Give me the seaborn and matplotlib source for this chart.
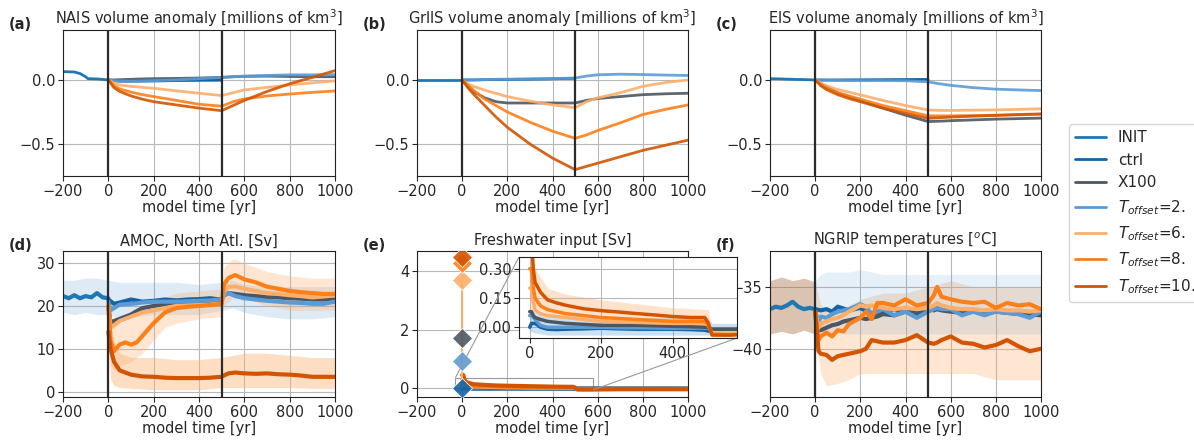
import matplotlib
matplotlib.use("Agg")
import matplotlib.pyplot as plt
from matplotlib.lines import Line2D
from mpl_toolkits.axes_grid1.inset_locator import mark_inset
import seaborn as sns

sns.set_style("ticks")
plt.rcParams['font.family'] = ['DejaVu Sans']
plt.rcParams['font.size'] = 10

# ---------------- series names / colours ----------------
series = ["INIT", "ctrl", "X100", "T2", "T6", "T8", "T10"]
labels = ["INIT", "ctrl", "X100", r"$T_{offset}$=2.", r"$T_{offset}$=6.",
          r"$T_{offset}$=8.", r"$T_{offset}$=10."]
colors = {"INIT": "#1f77b4", "ctrl": "#1464a5", "X100": "#4b5763",
          "T2": "#5b9bd5", "T6": "#fdae6b", "T8": "#fd7f18", "T10": "#d35400"}

# ---------------- (a)-(c) ice volume anomalies ----------------
t_init = [-200, -150, -125, -100, -90, -50, 0]
t_ctrl = [0, 50, 100, 200, 300, 400, 500]
t_run = [0, 25, 50, 100, 150, 200, 300, 400, 500, 550, 600, 700, 800, 900, 1000]

init_a = [0.065, 0.062, 0.05, 0.025, 0.01, 0.008, 0.0]
ctrl_a = [0.0, -0.01, -0.01, -0.008, -0.005, -0.003, -0.002]
x100_a = [0, 0.0, 0.002, 0.005, 0.008, 0.01, 0.012, 0.015, 0.02, 0.025, 0.028, 0.03, 0.027, 0.025, 0.025]
t2_a = [0, -0.005, -0.008, -0.01, -0.008, -0.005, 0.0, 0.01, 0.02, 0.025, 0.03, 0.035, 0.04, 0.04, 0.042]
t6_a = [0, -0.025, -0.04, -0.05, -0.058, -0.065, -0.085, -0.104, -0.122, -0.10, -0.078, -0.058, -0.039, -0.022, -0.008]
t8_a = [0, -0.045, -0.07, -0.095, -0.115, -0.13, -0.16, -0.19, -0.205, -0.17, -0.148, -0.125, -0.11, -0.097, -0.086]
t10_a = [0, -0.06, -0.09, -0.125, -0.15, -0.17, -0.195, -0.22, -0.24, -0.20, -0.16, -0.09, -0.03, 0.02, 0.073]

init_b = [0.0, 0.0, 0.0, 0.0, 0.0, 0.0, 0.0]
ctrl_b = [0, 0.0, 0.002, 0.004, 0.006, 0.009, 0.013]
x100_b = [0, -0.05, -0.09, -0.14, -0.17, -0.18, -0.18, -0.18, -0.18, -0.16, -0.145, -0.13, -0.115, -0.108, -0.104]
t2_b = [0, 0.0, 0.001, 0.003, 0.005, 0.006, 0.008, 0.01, 0.015, 0.03, 0.04, 0.045, 0.042, 0.038, 0.035]
t6_b = [0, -0.03, -0.05, -0.08, -0.105, -0.13, -0.165, -0.195, -0.216, -0.17, -0.14, -0.10, -0.05, -0.02, 0.0]
t8_b = [0, -0.04, -0.08, -0.15, -0.20, -0.25, -0.33, -0.40, -0.456, -0.43, -0.395, -0.335, -0.27, -0.23, -0.195]
t10_b = [0, -0.06, -0.11, -0.20, -0.29, -0.37, -0.50, -0.61, -0.70, -0.675, -0.65, -0.60, -0.55, -0.51, -0.47]

init_c = [0.01, 0.008, 0.006, 0.005, 0.004, 0.003, 0.0]
ctrl_c = [0, 0.0, 0.0, 0.001, 0.002, 0.003, 0.004]
x100_c = [0, -0.03, -0.055, -0.10, -0.13, -0.16, -0.22, -0.275, -0.325, -0.322, -0.318, -0.312, -0.306, -0.302, -0.298]
t2_c = [0, -0.002, -0.003, -0.004, -0.005, -0.005, -0.005, -0.006, -0.015, -0.03, -0.042, -0.06, -0.072, -0.078, -0.083]
t6_c = [0, -0.025, -0.045, -0.075, -0.095, -0.117, -0.16, -0.2, -0.235, -0.238, -0.238, -0.236, -0.234, -0.23, -0.225]
t8_c = [0, -0.035, -0.06, -0.10, -0.125, -0.15, -0.20, -0.24, -0.28, -0.28, -0.28, -0.278, -0.275, -0.272, -0.268]
t10_c = [0, -0.045, -0.075, -0.115, -0.145, -0.17, -0.22, -0.26, -0.30, -0.295, -0.29, -0.283, -0.277, -0.27, -0.265]

# ---------------- (d) AMOC ----------------
t_init_d = [-200, -175, -150, -125, -100, -75, -50, -25, 0]
init_d = [22.3, 21.8, 22.5, 21.8, 22.3, 22.0, 23.0, 22.0, 21.8]
t_ctrl_d = [0, 25, 50, 100, 150, 200, 250, 300, 350, 400, 450, 490]
ctrl_d = [21.5, 20.5, 20.8, 21.5, 21.0, 21.2, 21.5, 21.3, 21.5, 21.6, 21.8, 21.5]
t_run_d = [0, 10, 25, 50, 75, 100, 125, 150, 200, 250, 300, 350, 400, 450, 500,
           510, 530, 560, 600, 650, 700, 750, 800, 850, 900, 950, 1000]
t2_d = [21.0, 19.0, 19.5, 20.3, 20.4, 20.5, 20.6, 20.8, 21.0, 21.0, 21.0, 21.1, 21.2, 21.3, 21.5,
        22.5, 23.0, 22.3, 21.8, 21.5, 21.2, 21.0, 20.8, 20.7, 20.5, 20.5, 21.0]
x100_d = [20.0, 16.0, 16.5, 17.0, 17.5, 18.0, 18.8, 19.5, 20.0, 20.4, 20.8, 21.0, 21.0, 21.2, 21.5,
          22.5, 23.0, 22.8, 22.5, 22.3, 22.0, 22.0, 21.8, 21.7, 21.5, 21.5, 21.5]
t6_d = [20.0, 15.0, 15.5, 16.5, 17.0, 17.5, 18.0, 18.5, 19.0, 19.5, 20.0, 20.1, 20.2, 20.3, 20.5,
        23.5, 24.5, 24.5, 24.0, 23.5, 23.0, 22.8, 22.5, 22.3, 22.0, 22.2, 22.5]
t8_d = [20.0, 12.0, 9.5, 11.0, 11.5, 11.0, 11.5, 13.0, 16.0, 18.5, 19.5, 19.8, 20.0, 20.2, 20.5,
        25.0, 26.5, 27.2, 26.2, 25.5, 24.5, 24.0, 23.5, 23.2, 23.0, 22.8, 22.8]
t10_d = [14.0, 10.0, 7.0, 5.0, 4.5, 4.0, 3.8, 3.6, 3.5, 3.3, 3.2, 3.2, 3.2, 3.3, 3.5,
         3.8, 4.3, 4.5, 4.3, 4.2, 4.3, 4.1, 4.0, 3.8, 3.5, 3.5, 3.5]
# spread of the raw (unsmoothed) series
t_band_blue_d = [-200, -150, -100, -50, 0, 50, 100, 200, 300, 400, 500, 550, 600, 700, 800, 900, 1000]
lo_blue_d = [18.5, 18.0, 18.5, 18.0, 18.0, 17.0, 17.5, 18.0, 18.0, 18.0, 19.0, 19.5, 18.5, 17.5, 17.0, 17.0, 17.5]
hi_blue_d = [26.0, 26.0, 26.5, 26.5, 26.0, 25.5, 25.5, 25.5, 25.5, 25.0, 25.5, 26.0, 25.0, 24.5, 24.5, 24.5, 24.5]
t_band_t10_d = [0, 10, 25, 50, 100, 200, 300, 400, 500, 600, 700, 800, 900, 1000]
lo_t10_d = [12.0, 3.0, 1.5, 1.0, 0.8, 0.5, 0.5, 0.5, 1.0, 1.0, 1.0, 1.0, 0.8, 0.8]
hi_t10_d = [22.0, 16.0, 12.0, 9.0, 8.0, 8.0, 7.5, 7.5, 8.0, 9.0, 9.0, 8.5, 8.0, 8.0]
t_band_t8_d = [0, 10, 25, 50, 100, 150, 200, 250, 300, 400, 500, 510, 550, 600, 700, 800, 900, 1000]
lo_t8_d = [14.0, 6.0, 5.0, 6.0, 7.0, 9.0, 12.0, 15.0, 16.0, 17.0, 17.5, 20.0, 22.0, 22.0, 20.0, 19.0, 19.0, 19.0]
hi_t8_d = [22.0, 18.0, 16.0, 16.0, 17.0, 19.0, 21.0, 22.0, 23.0, 23.5, 24.0, 29.0, 31.0, 30.0, 28.0, 27.0, 26.5, 26.5]

# ---------------- (e) freshwater ----------------
t_fw = [0, 5, 10, 15, 30, 50, 75, 100, 150, 200, 250, 300, 350, 400, 450, 490, 500,
        510, 560, 600, 700, 800, 900, 1000]
t10_fw = [0.45, 0.45, 0.30, 0.23, 0.18, 0.14, 0.125, 0.113, 0.095, 0.085, 0.078, 0.07, 0.063, 0.055, 0.05, 0.05, 0.02,
          -0.04, -0.04, -0.035, -0.03, -0.03, -0.03, -0.03]
t8_fw = [0.30, 0.30, 0.20, 0.15, 0.11, 0.09, 0.08, 0.07, 0.06, 0.05, 0.045, 0.04, 0.035, 0.03, 0.03, 0.03, 0.01,
         -0.035, -0.04, -0.035, -0.03, -0.03, -0.03, -0.03]
t6_fw = [0.20, 0.20, 0.13, 0.09, 0.07, 0.06, 0.055, 0.05, 0.04, 0.03, 0.028, 0.025, 0.022, 0.02, 0.02, 0.02, 0.01,
         -0.03, -0.03, -0.03, -0.025, -0.025, -0.025, -0.025]
x100_fw = [0.08, 0.08, 0.06, 0.05, 0.04, 0.03, 0.025, 0.02, 0.015, 0.01, 0.01, 0.01, 0.008, 0.005, 0.003, 0.0, 0.0,
           -0.01, -0.01, -0.01, -0.01, -0.01, -0.01, -0.01]
t2_fw = [0.06, 0.06, 0.05, 0.04, 0.01, 0.0, 0.0, 0.0, 0.0, 0.0, -0.002, -0.003, -0.004, -0.005, -0.005, -0.005, -0.005,
         -0.01, -0.01, -0.01, -0.01, -0.01, -0.01, -0.01]
t_ctrl_fw = [0, 5, 10, 15, 30, 50, 75, 100, 150, 200, 250, 300, 350, 400, 450, 490, 500]
ctrl_fw = [0.0, 0.02, 0.02, 0.02, 0.0, -0.01, -0.012, -0.01, -0.008, -0.005, -0.008, -0.01, -0.01, -0.01, -0.012, -0.015, -0.02]
pulse_keys = ["ctrl", "T2", "X100", "T6", "T8", "T10"]
pulse_vals = [0.02, 0.95, 1.72, 3.69, 4.28, 4.5]
t_band_fw = [0, 15, 50, 100, 200, 300, 400, 500, 510, 560, 1000]
lo_t10_fw = [0.0, 0.10, 0.07, 0.05, 0.04, 0.03, 0.02, 0.02, -0.05, -0.05, -0.05]
hi_t10_fw = [0.36, 0.30, 0.20, 0.17, 0.14, 0.12, 0.10, 0.09, -0.02, -0.02, -0.02]
lo_blue_fw = [-0.02, -0.03, -0.04, -0.04, -0.04, -0.04, -0.04, -0.04, -0.04, -0.04, -0.04]
hi_blue_fw = [0.06, 0.09, 0.06, 0.05, 0.05, 0.05, 0.05, 0.05, 0.02, 0.02, 0.02]

# ---------------- (f) NGRIP temperature ----------------
t_init_f = [-200, -175, -150, -125, -100, -75, -50, -25, 0]
init_f = [-36.8, -36.6, -36.7, -36.5, -36.2, -36.6, -36.8, -36.7, -36.8]
t_ctrl_f = [0, 25, 50, 75, 100, 150, 200, 250, 300, 350, 400, 450, 500]
ctrl_f = [-36.8, -36.9, -36.8, -37.0, -36.6, -36.9, -36.7, -37.2, -37.0, -36.8, -37.0, -37.2, -36.9]
t_run_f = [0, 15, 25, 50, 75, 100, 125, 150, 200, 225, 250, 275, 300, 350, 400, 450, 500,
           525, 540, 560, 600, 650, 700, 750, 800, 850, 900, 950, 1000]
t2_f = [-37.0, -37.8, -37.4, -37.5, -37.2, -37.0, -36.9, -36.8, -36.4, -36.6, -37.2, -37.0, -36.8, -37.3, -37.0, -37.5, -37.0,
        -36.8, -36.7, -36.8, -36.8, -37.3, -37.0, -37.3, -37.0, -37.1, -37.2, -37.5, -37.0]
x100_f = [-37.0, -38.5, -38.5, -38.3, -38.1, -38.0, -37.8, -37.7, -37.5, -37.6, -37.5, -37.4, -37.2, -37.3, -37.0, -37.0, -36.7,
          -36.9, -36.8, -36.9, -37.0, -37.1, -37.0, -37.1, -37.0, -37.1, -37.2, -37.2, -37.3]
t6_f = [-37.0, -38.3, -38.0, -37.8, -37.6, -37.5, -37.3, -37.0, -36.5, -36.6, -36.5, -36.6, -36.7, -36.8, -36.7, -36.8, -36.7,
        -36.5, -36.3, -36.5, -36.7, -36.8, -36.8, -36.9, -36.8, -36.9, -36.9, -37.0, -36.9]
t8_f = [-37.0, -39.3, -39.0, -38.7, -39.0, -38.5, -38.6, -38.0, -37.5, -37.0, -37.6, -36.3, -36.3, -36.5, -36.0, -36.5, -36.3,
        -35.7, -35.0, -35.8, -36.0, -36.2, -36.3, -36.2, -36.7, -36.3, -36.5, -36.4, -36.8]
t10_f = [-37.0, -40.2, -40.4, -40.5, -40.9, -40.6, -40.5, -40.4, -40.2, -40.0, -39.3, -39.4, -39.5, -39.5, -39.3, -38.9, -39.5,
         -39.6, -39.5, -39.3, -39.0, -39.5, -39.6, -39.9, -39.7, -39.3, -39.8, -40.2, -40.0]
t_band_pre_f = [-200, -150, -100, -50, 0]
lo_pre_f = [-38.8, -38.6, -38.8, -38.5, -38.8]
hi_pre_f = [-34.5, -34.2, -34.5, -34.3, -34.6]
t_band_f = [0, 25, 50, 100, 150, 200, 300, 400, 500, 600, 700, 800, 900, 1000]
lo_blue_f = [-38.8, -38.8, -38.8, -38.8, -38.8, -38.8, -38.8, -38.8, -38.8, -38.8, -38.8, -38.8, -38.8, -38.8]
hi_blue_f = [-34.5, -34.0, -33.8, -33.8, -33.8, -33.6, -34.0, -34.0, -34.0, -34.0, -34.0, -34.0, -34.0, -34.0]
lo_or_f = [-39.0, -42.0, -43.0, -42.8, -42.5, -42.0, -42.0, -42.0, -42.0, -42.0, -42.0, -42.5, -42.5, -42.5]
hi_or_f = [-34.5, -36.5, -37.0, -37.0, -36.5, -36.0, -35.5, -35.5, -35.0, -34.5, -35.0, -35.0, -35.0, -35.0]

# ---------------- figure ----------------
W, H = 1194, 441
fig = plt.figure(figsize=(W / 100, H / 100), dpi=100)


def px_axes(left, top, right, bottom):
    return fig.add_axes([left / W, 1 - bottom / H, (right - left) / W, (bottom - top) / H])


lefts = [63, 417, 770]
rights = [335, 688, 1041]
axes_top = [px_axes(lefts[i], 30, rights[i], 176) for i in range(3)]
axes_bot = [px_axes(lefts[i], 251, rights[i], 397) for i in range(3)]


def line(ax, t, y, key, lw=2.0, alpha=1.0, z=2):
    sns.lineplot(x=t, y=y, ax=ax, color=colors[key], lw=lw, alpha=alpha,
                 legend=False, estimator=None, sort=False, zorder=z)


def style(ax, title, letter, ylim, yticks, vlines=True, xlim=(-200, 1000)):
    ax.set_xlim(*xlim)
    ax.set_ylim(*ylim)
    ax.set_xticks([-200, 0, 200, 400, 600, 800, 1000])
    ax.set_yticks(yticks)
    ax.grid(True, color="#b8b8b8", lw=0.8)
    ax.set_axisbelow(True)
    ax.set_title(title, fontsize=10.5, pad=4)
    ax.set_xlabel("model time [yr]", fontsize=10.5, labelpad=1)
    ax.set_ylabel("")
    ax.tick_params(labelsize=10.5, length=3.5, width=0.8, pad=2)
    for s in ax.spines.values():
        s.set_linewidth(0.8)
        s.set_color("#222222")
    ax.text(-0.2, 1.035, letter, transform=ax.transAxes, fontweight="bold",
            fontsize=10.5, ha="left", va="center")
    if vlines:
        for xv in (0, 500):
            ax.axvline(xv, color="#2b2b2b", lw=1.6, zorder=4)


vol_sets = [
    ("NAIS volume anomaly [millions of km$^3$]", "(a)", init_a, ctrl_a, x100_a, t2_a, t6_a, t8_a, t10_a),
    ("GrIIS volume anomaly [millions of km$^3$]", "(b)", init_b, ctrl_b, x100_b, t2_b, t6_b, t8_b, t10_b),
    ("EIS volume anomaly [millions of km$^3$]", "(c)", init_c, ctrl_c, x100_c, t2_c, t6_c, t8_c, t10_c),
]
for ax, (title, letter, yi, yc, yx, y2, y6, y8, y10) in zip(axes_top, vol_sets):
    line(ax, t_init, yi, "INIT", lw=2.0)
    line(ax, t_ctrl, yc, "ctrl", lw=2.0)
    line(ax, t_run, yx, "X100", lw=2.0, alpha=0.9)
    line(ax, t_run, y2, "T2", lw=2.0, alpha=0.9)
    line(ax, t_run, y6, "T6", lw=2.0, alpha=0.9)
    line(ax, t_run, y8, "T8", lw=2.0, alpha=0.9)
    line(ax, t_run, y10, "T10", lw=2.0, alpha=0.9)
    style(ax, title, letter, (-0.75, 0.39), [-0.5, 0.0])

# (d)
ax = axes_bot[0]
ax.fill_between(t_band_blue_d, lo_blue_d, hi_blue_d, color=colors["T2"], alpha=0.2, lw=0)
ax.fill_between(t_band_t10_d, lo_t10_d, hi_t10_d, color=colors["T6"], alpha=0.4, lw=0)
ax.fill_between(t_band_t8_d, lo_t8_d, hi_t8_d, color=colors["T6"], alpha=0.3, lw=0)
line(ax, t_init_d, init_d, "INIT", lw=3)
line(ax, t_ctrl_d, ctrl_d, "ctrl", lw=3)
line(ax, t_run_d, x100_d, "X100", lw=3)
line(ax, t_run_d, t2_d, "T2", lw=3)
line(ax, t_run_d, t6_d, "T6", lw=3)
line(ax, t_run_d, t8_d, "T8", lw=3)
line(ax, t_run_d, t10_d, "T10", lw=3)
style(ax, "AMOC, North Atl. [Sv]", "(d)", (-1.2, 32.8), [0, 10, 20, 30])

# (e)
ax = axes_bot[1]


def fw_lines(a, lw):
    a.fill_between(t_band_fw, lo_blue_fw, hi_blue_fw, color=colors["T2"], alpha=0.3, lw=0)
    a.fill_between(t_band_fw, lo_t10_fw, hi_t10_fw, color=colors["T6"], alpha=0.35, lw=0)
    line(a, t_ctrl_fw, ctrl_fw, "ctrl", lw=lw)
    line(a, t_fw, t2_fw, "T2", lw=lw)
    line(a, t_fw, x100_fw, "X100", lw=lw)
    line(a, t_fw, t6_fw, "T6", lw=lw)
    line(a, t_fw, t8_fw, "T8", lw=lw)
    line(a, t_fw, t10_fw, "T10", lw=lw)


fw_lines(ax, 3)
ax.vlines(0, 0, pulse_vals[pulse_keys.index("T6")], color=colors["T6"], lw=1.5, zorder=3)
for k, v in zip(pulse_keys, pulse_vals):
    ax.plot(0, v, marker="D", ms=10, color=colors[k], mec="white", mew=0.6, alpha=0.9, zorder=5)
style(ax, "Freshwater input [Sv]", "(e)", (-0.3, 4.7), [0, 2, 4], vlines=False)

axins = px_axes(519, 257, 737, 338)
fw_lines(axins, 2.5)
axins.set_xlim(-30, 580)
axins.set_ylim(-0.055, 0.36)
axins.set_xticks([0, 200, 400])
axins.set_yticks([0.0, 0.15, 0.30])
axins.set_yticklabels(["0.00", "0.15", "0.30"])
axins.grid(True, color="#b8b8b8", lw=0.8)
axins.set_axisbelow(True)
axins.set_xlabel("")
axins.set_ylabel("")
axins.tick_params(labelsize=10.5, length=3.5, width=0.8, pad=2)
for s in axins.spines.values():
    s.set_linewidth(0.8)
    s.set_color("#222222")
mark_inset(ax, axins, loc1=2, loc2=4, fc="none", ec="0.6", lw=0.8)

# (f)
ax = axes_bot[2]
ax.fill_between(t_band_pre_f, lo_pre_f, hi_pre_f, color="#a56a3c", alpha=0.4, lw=0)
ax.fill_between(t_band_f, lo_or_f, hi_or_f, color=colors["T6"], alpha=0.3, lw=0)
ax.fill_between(t_band_f, lo_blue_f, hi_blue_f, color=colors["T2"], alpha=0.15, lw=0)
line(ax, t_init_f, init_f, "INIT", lw=3)
line(ax, t_ctrl_f, ctrl_f, "ctrl", lw=3)
line(ax, t_run_f, x100_f, "X100", lw=3)
line(ax, t_run_f, t2_f, "T2", lw=3)
line(ax, t_run_f, t6_f, "T6", lw=3)
line(ax, t_run_f, t8_f, "T8", lw=3)
line(ax, t_run_f, t10_f, "T10", lw=3)
style(ax, "NGRIP temperatures [$^o$C]", "(f)", (-43.9, -32.1), [-40, -35])

# legend
handles = [Line2D([0], [0], color=colors[k], lw=2) for k in series]
fig.legend(handles, labels, loc="upper left", bbox_to_anchor=(1069 / W, 1 - 124 / H),
           fontsize=11, frameon=True, borderaxespad=0, labelspacing=0.5, handlelength=2.0)

fig.savefig("out.png", dpi=100)
